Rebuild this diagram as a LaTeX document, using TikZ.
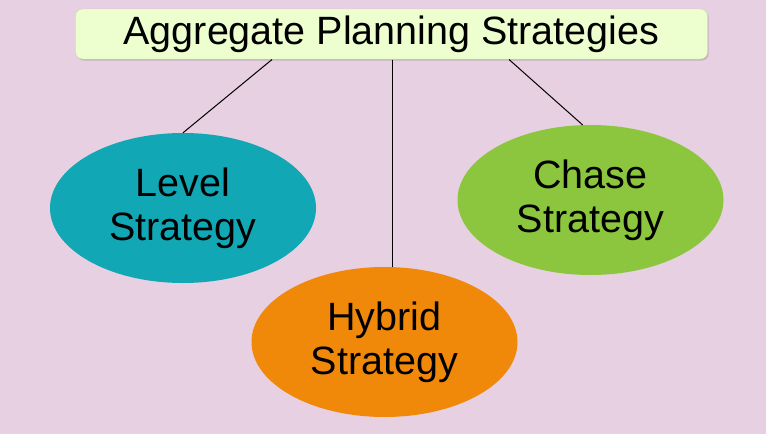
\documentclass[tikz,border=0pt]{standalone}
\usepackage{fontspec}
\setmainfont{Liberation Sans}
\usepackage{tikz}
\usetikzlibrary{positioning, shapes, shadows}
\definecolor{bgPink}{HTML}{E7D0E1}
\definecolor{titleGreen}{HTML}{EEFFCF}
\definecolor{levelTeal}{HTML}{12A7B4}
\definecolor{chaseGreen}{HTML}{8CC63E}
\definecolor{hybridOrange}{HTML}{F0890A}
\tikzstyle{titleNode}=[rectangle, rounded corners=7pt, fill=titleGreen, draw=titleGreen!85!black, line width=0.4pt, minimum width=632pt, minimum height=50pt, inner sep=0pt, font=\fontsize{39.5}{46}\selectfont, drop shadow={shadow xshift=1.2pt, shadow yshift=-1.5pt, opacity=0.35}]
\tikzstyle{strategyNode}=[ellipse, minimum width=266pt, minimum height=150pt, inner sep=0pt, align=center, font=\fontsize{39.5}{44}\selectfont]
\tikzstyle{branchLine}=[line width=1pt, black]

\begin{document}
\begin{tikzpicture}[x=1pt, y=-1pt]
  \fill[bgPink] (0,0) rectangle (766,434);
  \useasboundingbox (0,0) rectangle (766,434);

  % title
  \node[titleNode] (title) at (391.5, 34) {Aggregate Planning Strategies};

  % strategies
  \node[strategyNode, fill=levelTeal] (level) at (183, 208) {Level\\Strategy};
  \node[strategyNode, fill=chaseGreen] (chase) at (590.5, 200) {Chase\\Strategy};
  \node[strategyNode, fill=hybridOrange] (hybrid) at (384.5, 342) {Hybrid\\Strategy};

  \coordinate (t1) at (272, 59.5);
  \coordinate (t2) at (392.5, 59.5);
  \coordinate (t3) at (509, 59.5);

  \draw[branchLine] (t1) -- (level.north);
  \draw[branchLine] (t2) -- (t2 |- hybrid.north);
  \draw[branchLine] (t3) -- (chase.96);
\end{tikzpicture}
\end{document}
